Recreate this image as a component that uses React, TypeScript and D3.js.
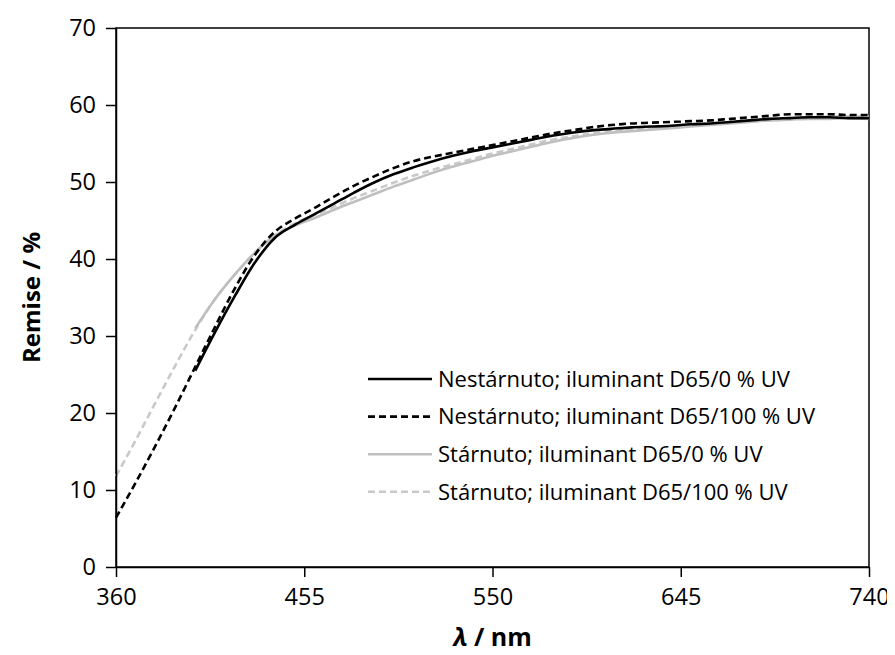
import React, { useEffect, useRef } from 'react';
import * as d3 from 'd3';

// wavelengths, nm
const lambdaFull = d3.range(360, 741, 10);
const lambdaVis = d3.range(400, 741, 10);

// Nestárnuto; iluminant D65/0 % UV (starts at 400 nm)
const nest0 = [25.5, 30.5, 35.2, 39.5, 42.7, 44.4, 45.8, 47.2, 48.6, 49.9, 51.0, 51.9, 52.7, 53.4, 54.0,
  54.5, 55.0, 55.5, 56.0, 56.4, 56.7, 56.9, 57.1, 57.2, 57.3, 57.5, 57.6, 57.8, 58.0, 58.2, 58.3, 58.4, 58.4, 58.3, 58.3];
// Nestárnuto; iluminant D65/100 % UV
const nest100 = [6.4, 11.0, 15.8, 20.8, 26.0, 31.2, 36.2, 40.5, 43.5, 45.2, 46.6, 48.1, 49.5, 50.7, 51.8,
  52.7, 53.3, 53.8, 54.3, 54.8, 55.3, 55.8, 56.3, 56.7, 57.1, 57.4, 57.6, 57.7, 57.8, 57.9, 58.0, 58.2, 58.4, 58.6, 58.8, 58.8, 58.8, 58.7, 58.7];
// Stárnuto; iluminant D65/0 % UV (starts at 400 nm)
const star0 = [31.0, 34.8, 38.0, 40.8, 43.0, 44.3, 45.3, 46.4, 47.4, 48.4, 49.4, 50.3, 51.2, 52.0, 52.7,
  53.4, 54.0, 54.6, 55.2, 55.7, 56.1, 56.4, 56.6, 56.8, 57.0, 57.2, 57.4, 57.6, 57.8, 58.0, 58.1, 58.2, 58.2, 58.3, 58.2];
// Stárnuto; iluminant D65/100 % UV
const star100 = [11.8, 16.5, 21.4, 26.2, 30.8, 34.8, 38.0, 40.8, 43.0, 44.6, 45.7, 46.8, 47.9, 48.9, 49.9,
  50.8, 51.6, 52.3, 53.0, 53.7, 54.3, 54.9, 55.5, 55.9, 56.3, 56.6, 56.8, 57.0, 57.2, 57.4, 57.6, 57.8, 58.0, 58.2, 58.3, 58.4, 58.5, 58.5, 58.5];

const xTicks = [360, 455, 550, 645, 740];
const yTicks = [0, 10, 20, 30, 40, 50, 60, 70];

const series = [
  { name: 'Nestárnuto; iluminant D65/0 % UV', x: lambdaVis, y: nest0, color: '#000000', dash: null },
  { name: 'Nestárnuto; iluminant D65/100 % UV', x: lambdaFull, y: nest100, color: '#000000', dash: '7,4' },
  { name: 'Stárnuto; iluminant D65/0 % UV', x: lambdaVis, y: star0, color: '#bfbfbf', dash: null },
  { name: 'Stárnuto; iluminant D65/100 % UV', x: lambdaFull, y: star100, color: '#c9c9c9', dash: '7,4' },
];

const W = 895;
const H = 655;
const margin = { top: 28, right: 26, bottom: 88, left: 116 };
const font = '"Open Sans", "Noto Sans", sans-serif';

export default function App() {
  const svgRef = useRef<SVGSVGElement | null>(null);

  useEffect(() => {
    if (!svgRef.current) return;
    const svg = d3.select(svgRef.current);
    svg.selectAll('*').remove();

    const x = d3.scaleLinear().domain([360, 740]).range([margin.left, W - margin.right]);
    const y = d3.scaleLinear().domain([0, 70]).range([H - margin.bottom, margin.top]);

    // plot frame
    svg.append('rect')
      .attr('x', x(360)).attr('y', y(70))
      .attr('width', x(740) - x(360)).attr('height', y(0) - y(70))
      .attr('fill', 'none').attr('stroke', '#000').attr('stroke-width', 1.5);

    // lines, drawn back to front
    const line = d3.line<[number, number]>()
      .x(d => x(d[0]))
      .y(d => y(d[1]))
      .curve(d3.curveMonotoneX);

    [3, 2, 0, 1].forEach(i => {
      const s = series[i];
      const pts = s.x.map((l, j) => [l, s.y[j]] as [number, number]);
      svg.append('path')
        .attr('d', line(pts))
        .attr('fill', 'none')
        .attr('stroke', s.color)
        .attr('stroke-width', 2.6)
        .attr('stroke-dasharray', s.dash)
        .attr('stroke-linejoin', 'round');
    });

    // axes
    const xAxis = svg.append('g')
      .attr('transform', `translate(0, ${y(0)})`)
      .call(d3.axisBottom(x).tickValues(xTicks).tickSize(10).tickSizeOuter(0).tickPadding(11));
    const yAxis = svg.append('g')
      .attr('transform', `translate(${x(360)}, 0)`)
      .call(d3.axisLeft(y).tickValues(yTicks).tickSize(10).tickSizeOuter(0).tickPadding(10));

    [xAxis, yAxis].forEach(g => {
      g.select('.domain').attr('stroke', '#000').attr('stroke-width', 1.5);
      g.selectAll('.tick line').attr('stroke', '#000').attr('stroke-width', 1.5);
      g.selectAll('.tick text')
        .attr('fill', '#000')
        .style('font-family', font)
        .style('font-size', '23.5px');
    });

    // axis titles
    svg.append('text')
      .attr('transform', `translate(40, ${(y(0) + y(70)) / 2}) rotate(-90)`)
      .attr('text-anchor', 'middle')
      .style('font-family', font)
      .style('font-size', '24px')
      .style('font-weight', 'bold')
      .text('Remise / %');

    const xt = svg.append('text')
      .attr('x', (x(360) + x(740)) / 2)
      .attr('y', 646)
      .attr('text-anchor', 'middle')
      .style('font-family', font)
      .style('font-size', '25px')
      .style('font-weight', 'bold');
    xt.append('tspan').style('font-style', 'italic').text('λ');
    xt.append('tspan').text(' / nm');

    // legend
    const legend = svg.append('g').attr('transform', 'translate(368, 379)');
    series.forEach((s, i) => {
      const g = legend.append('g').attr('transform', `translate(0, ${i * 37.6})`);
      g.append('line')
        .attr('x1', 0).attr('x2', 64).attr('y1', 0).attr('y2', 0)
        .attr('stroke', s.color)
        .attr('stroke-width', 2.6)
        .attr('stroke-dasharray', s.dash);
      g.append('text')
        .attr('x', 70)
        .attr('y', 0)
        .attr('dy', '0.35em')
        .style('font-family', font)
        .style('font-size', '22px')
        .text(s.name);
    });
  }, []);

  return <svg ref={svgRef} width={W} height={H} style={{ display: 'block', marginTop: -8, marginLeft: -8 }} />;
}
